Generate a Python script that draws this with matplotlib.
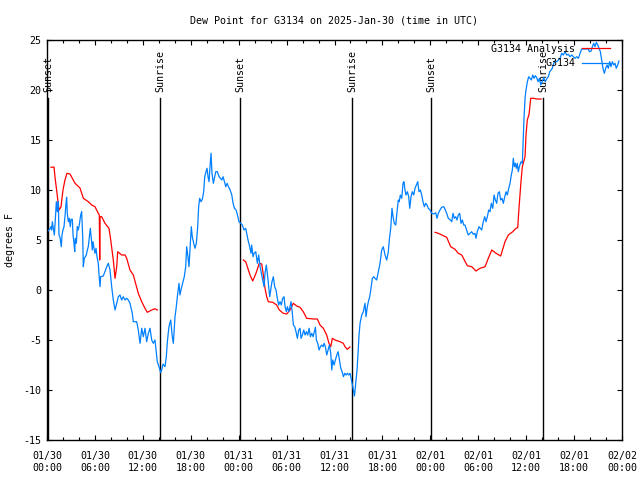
import numpy as np
import matplotlib
matplotlib.use("Agg")
import matplotlib.pyplot as plt
from matplotlib.ticker import MultipleLocator, FuncFormatter
from datetime import datetime, timedelta

# ---- data (hours since 2025-01-30 00:00 UTC, degrees F) ----
title = "Dew Point for G3134 on 2025-Jan-30 (time in UTC)"
start = datetime(2025, 1, 30, 0, 0)

analysis_hours = [0.50, 0.88, 1.00, 1.25, 1.50, 1.75, 2.00, 2.25, 2.50, 2.88, 3.51, 4.13, 4.55, 5.17,
                  5.60, 6.01, 6.42, 6.55, 6.60, 6.65, 6.85, 7.26, 7.76, 7.98, 8.30, 8.52, 8.73, 8.85,
                  9.35, 9.77, 9.98, 10.39, 10.81, 11.43, 11.86, 12.27, 12.56, 13.11, 13.52, 13.81,
                  19.0,
                  24.58, 24.88, 25.42, 25.76, 26.17, 26.58, 26.89, 27.09, 27.30, 27.51, 27.71, 28.26,
                  28.76, 29.09, 29.59, 30.02, 30.43, 30.84, 31.27, 31.68, 32.09, 32.52, 33.35, 33.85,
                  34.19, 34.60, 35.02, 35.31, 35.53, 35.73, 36.06, 36.69, 37.10, 37.32, 37.60, 37.94,
                  43.0,
                  48.59, 49.00, 49.63, 50.05, 50.55, 51.09, 51.50, 51.93, 52.63, 53.18, 53.72, 54.22,
                  54.85, 55.26, 55.69, 56.23, 56.81, 57.35, 57.77, 58.32, 58.73, 58.94, 59.10, 59.35,
                  59.52, 59.86, 59.98, 60.14, 60.36, 60.57, 60.90, 61.32, 61.86]
analysis_vals = [12.27, 12.3, 11.3, 9.7, 8.0, 8.3, 10.0, 11.0, 11.67, 11.6, 10.67, 10.2, 9.17, 8.83,
                 8.5, 8.33, 7.67, 7.5, 3.0, 7.33, 7.33, 6.67, 6.17, 5.0, 3.0, 1.17, 2.33, 3.83,
                 3.5, 3.5, 3.17, 2.0, 1.5, -0.33, -1.17, -1.83, -2.23, -2.0, -1.87, -2.0,
                 np.nan,
                 3.0, 2.83, 1.5, 0.9, 1.67, 2.67, 2.6, 1.5, 0.17, -0.67, -1.17, -1.23,
                 -1.5, -2.0, -2.33, -2.4, -2.0, -1.33, -1.6, -1.73, -2.17, -2.83, -2.9, -2.9,
                 -3.5, -3.83, -4.5, -5.33, -5.67, -4.83, -5.0, -5.17, -5.33, -5.67, -5.93, -5.7,
                 np.nan,
                 5.77, 5.67, 5.43, 5.27, 4.33, 4.07, 3.67, 3.5, 2.43, 2.33, 1.9, 2.17,
                 2.33, 3.17, 4.0, 3.67, 3.4, 4.83, 5.5, 5.83, 6.17, 6.23, 8.17, 10.83,
                 12.33, 13.33, 15.5, 17.0, 17.57, 19.17, 19.17, 19.1, 19.1]

obs_hours = [0.17, 0.33, 0.50, 0.58, 0.67, 0.79, 0.92, 1.04, 1.17, 1.29, 1.42, 1.50, 1.63, 1.79,
             1.88, 2.00, 2.13, 2.25, 2.38, 2.46, 2.54, 2.67, 2.79, 2.92, 3.01, 3.17, 3.26, 3.38,
             3.47, 3.54, 3.67, 3.79, 3.92, 4.04, 4.22, 4.34, 4.47, 4.55, 4.67, 4.80, 4.92, 5.05,
             5.17, 5.30, 5.42, 5.55, 5.67, 5.76, 5.89, 6.01, 6.14, 6.26, 6.42, 6.55, 6.64, 6.72,
             7.05, 7.48, 7.68, 7.89, 8.10, 8.30, 8.52, 8.73, 8.93, 9.14, 9.35, 9.55, 9.77, 9.98,
             10.18, 10.39, 10.68, 10.81, 11.23, 11.43, 11.65, 11.86, 12.06, 12.27, 12.48, 12.69,
             12.90, 13.11, 13.31, 13.52, 13.65, 13.81, 14.02, 14.24,
             14.36, 14.53, 14.78, 14.94, 15.07, 15.27, 15.49, 15.69, 15.82, 16.03, 16.19, 16.32,
             16.53, 16.65, 16.82, 17.03, 17.19, 17.37, 17.49, 17.65, 17.78, 17.90, 18.07, 18.19,
             18.37, 18.53, 18.70, 18.87, 18.99, 19.12, 19.28, 19.45, 19.62, 19.75, 19.91, 20.04,
             20.16, 20.29, 20.41, 20.54, 20.66, 20.83, 21.00, 21.13, 21.33, 21.55, 21.71, 21.89,
             22.05, 22.22, 22.39, 22.55, 22.72, 22.93, 23.14, 23.30, 23.47, 23.68, 23.85, 24.04,
             24.26, 24.46, 24.67, 24.88, 25.00, 25.17, 25.38, 25.55, 25.63, 25.80,
             25.93, 26.14, 26.34, 26.51, 26.68, 26.84, 27.01, 27.18, 27.30, 27.46, 27.59, 27.76,
             27.89, 28.01, 28.17, 28.34, 28.51, 28.68, 28.84, 29.01, 29.18, 29.34, 29.51, 29.68,
             29.81, 29.97, 30.10, 30.27, 30.43, 30.56, 30.72, 30.85, 31.02, 31.18, 31.35, 31.52,
             31.69, 31.81, 31.98, 32.15, 32.31, 32.48, 32.65, 32.82, 32.98, 33.15, 33.32, 33.48,
             33.61, 33.73, 33.90, 34.07, 34.23, 34.40, 34.57, 34.69, 34.86, 35.03, 35.19, 35.36,
             35.53, 35.66, 35.78, 35.95, 36.11, 36.29, 36.45, 36.62, 36.79, 36.95, 37.12, 37.29,
             37.45, 37.62, 37.79, 37.95, 38.12, 38.29, 38.50,
             38.82, 38.95, 39.07, 39.20, 39.41, 39.61, 39.82, 39.95, 40.11, 40.24, 40.41, 40.57,
             40.74, 40.91, 41.07, 41.28, 41.49, 41.70, 41.91, 42.11, 42.33, 42.54, 42.74, 42.86,
             43.04, 43.20, 43.33, 43.49, 43.67, 43.83, 43.99, 44.11, 44.24, 44.42, 44.58, 44.70,
             44.83, 44.95, 45.12, 45.29, 45.42, 45.58, 45.74, 45.92, 46.08, 46.25, 46.42, 46.58,
             46.75, 46.92, 47.08, 47.25, 47.42, 47.58, 47.75, 47.96, 48.17, 48.42, 48.67, 48.84,
             49.00, 49.21, 49.42, 49.68, 49.84, 50.05, 50.25, 50.50, 50.68, 50.84, 51.00, 51.18,
             51.34, 51.50, 51.68, 51.84, 52.01, 52.18,
             52.34, 52.55, 52.75, 52.97, 53.18, 53.38, 53.59, 53.72, 53.88, 54.09, 54.26, 54.43,
             54.63, 54.81, 54.97, 55.14, 55.31, 55.47, 55.64, 55.81, 55.98, 56.14, 56.31, 56.47,
             56.64, 56.81, 56.97, 57.14, 57.32, 57.48, 57.64, 57.82, 57.98, 58.14, 58.27, 58.39,
             58.52, 58.64, 58.77, 58.89, 59.02, 59.14, 59.36, 59.52, 59.65, 59.73, 59.86, 59.98,
             60.15, 60.32, 60.48, 60.65, 60.82, 60.99, 61.15, 61.32, 61.49, 61.65, 61.83, 61.99,
             62.20, 62.40, 62.61, 62.78, 62.95, 63.11, 63.28, 63.45, 63.61, 63.83, 64.03, 64.24,
             64.45, 64.65, 64.87, 65.08, 65.28, 65.49, 65.71, 65.91, 66.12, 66.33, 66.54, 66.75,
             66.96, 67.38, 67.79, 67.92, 68.13, 68.29, 68.46, 68.62, 68.79, 68.96, 69.12, 69.29,
             69.46, 69.62, 69.79, 69.96, 70.13, 70.29, 70.46, 70.62, 70.79, 70.96, 71.12, 71.29,
             71.46, 71.62]
obs_vals = [5.93, 6.07, 6.33, 6.0, 6.83, 6.17, 5.5, 7.0, 8.83, 7.83, 8.83, 5.5, 5.27, 4.33,
            5.5, 6.0, 6.33, 7.33, 8.67, 9.27, 7.67, 6.83, 7.17, 6.33, 7.07, 7.07, 5.5, 4.67,
            3.83, 5.17, 4.67, 6.33, 6.0, 6.5, 7.5, 7.83, 5.33, 2.33, 3.17, 3.33, 3.5, 4.0,
            4.33, 5.33, 6.17, 5.17, 4.0, 4.83, 4.17, 3.67, 4.17, 3.33, 2.67, 1.17, 0.33, 1.33,
            1.4, 2.33, 2.67, 2.0, 0.33, -1.0, -2.0, -1.33, -0.67, -0.5, -1.0, -0.67, -1.0, -0.83,
            -1.0, -1.33, -2.33, -3.17, -3.17, -4.0, -5.33, -3.83, -4.67, -3.83, -5.17, -4.33,
            -3.83, -5.0, -5.33, -5.0, -6.0, -7.17, -7.67, -8.27,
            -8.0, -7.4, -7.67, -6.67, -5.17, -3.67, -3.0, -4.67, -5.33, -2.67, -1.67, -0.67,
            0.67, -0.5, 0.17, 0.83, 1.33, 2.33, 4.33, 3.33, 2.33, 4.0, 6.33, 5.33,
            4.67, 4.17, 4.67, 6.33, 8.33, 9.17, 8.83, 9.07, 9.83, 11.33, 11.83, 12.17,
            11.33, 10.83, 12.33, 13.67, 11.67, 10.67, 11.33, 11.83, 11.83, 11.33, 11.17, 11.0,
            11.33, 10.83, 10.33, 10.67, 10.33, 10.0, 9.5, 8.67, 8.17, 8.0, 7.5, 6.83,
            6.67, 6.5, 6.0, 6.17, 5.67, 5.0, 4.33, 3.67, 4.5, 3.33,
            3.67, 3.83, 2.67, 3.5, 2.33, 1.67, 1.0, 0.33, 1.67, 2.5, 1.67, 0.33,
            -0.67, 0.0, 0.83, 1.33, 0.33, 0.0, -0.83, -1.5, -1.17, -1.5, -0.83, -0.67,
            -1.67, -2.17, -1.67, -2.17, -1.67, -1.17, -2.33, -3.5, -3.67, -4.17, -4.83, -4.0,
            -3.83, -4.83, -4.5, -4.0, -4.5, -4.17, -4.5, -3.83, -4.67, -4.33, -4.67, -4.17,
            -3.73, -5.0, -5.33, -6.0, -5.67, -5.5, -5.67, -5.33, -5.67, -6.5, -6.0, -5.5,
            -6.33, -8.0, -7.0, -7.5, -7.0, -6.5, -6.17, -7.0, -7.83, -8.17, -8.67, -8.33,
            -8.5, -8.33, -8.5, -8.33, -9.0, -9.67, -10.6,
            -8.0, -6.33, -4.5, -3.33, -2.5, -2.17, -1.33, -2.67, -1.67, -1.17, -0.67, 0.17,
            1.17, 1.33, 1.17, 1.0, 1.83, 2.67, 4.0, 4.33, 3.5, 3.0, 3.83, 5.0,
            6.17, 8.17, 7.33, 6.67, 6.5, 7.83, 9.0, 8.83, 9.5, 9.17, 10.67, 10.83,
            10.0, 9.5, 9.83, 9.33, 8.17, 9.33, 9.83, 9.5, 10.17, 10.5, 10.83, 9.83,
            10.0, 9.5, 8.83, 8.33, 8.67, 8.5, 8.17, 8.0, 7.67, 7.6, 7.73, 7.17,
            7.67, 8.0, 8.27, 8.33, 8.07, 7.67, 7.17, 7.0, 6.83, 7.67, 7.17, 7.33,
            7.0, 7.5, 7.67, 6.67, 7.0, 6.5,
            6.5, 6.0, 5.5, 5.67, 5.83, 5.57, 5.67, 5.17, 5.83, 6.33, 6.17, 6.0,
            6.83, 7.33, 6.83, 7.33, 8.0, 7.83, 8.67, 8.17, 9.5, 9.0, 8.67, 9.67,
            9.83, 9.0, 9.17, 8.67, 9.33, 9.83, 9.5, 10.17, 10.67, 11.5, 12.0, 13.17,
            12.33, 12.67, 12.17, 12.67, 11.83, 12.33, 12.83, 12.67, 15.5, 17.17, 19.17, 20.0,
            20.83, 21.33, 21.17, 21.0, 21.5, 21.17, 21.43, 21.23, 20.83, 21.17, 20.5, 20.83,
            21.23, 20.83, 21.17, 21.33, 21.83, 22.0, 22.17, 22.67, 22.9, 22.83, 23.0, 23.17,
            23.67, 23.5, 23.83, 23.5, 23.57, 23.33, 23.5, 23.33, 23.17, 23.33, 23.17, 23.67,
            24.1, 24.1, 24.1, 23.83, 23.9, 24.33, 24.67, 24.33, 24.77, 24.5, 24.17, 23.83,
            23.0, 22.17, 21.67, 22.17, 22.5, 22.17, 22.83, 22.33, 22.83, 22.5, 22.67, 22.17,
            22.5, 22.9]

event_hours = [0.13, 14.15, 24.17, 38.2, 48.08, 62.1]
event_labels = ["Sunset", "Sunrise", "Sunset", "Sunrise", "Sunset", "Sunrise"]

series_names = ["G3134 Analysis", "G3134"]
series_colors = ["#ff0000", "#0080ff"]

# ---- figure ----
mono = "DejaVu Sans Mono"
plt.rcParams['font.family'] = mono
plt.rcParams['font.size'] = 7.2

fig = plt.figure(figsize=(6.4, 4.8), dpi=100)
ax = fig.add_axes([47/640, 1-440/480, 575/640, 400/480])

ax.set_xlim(0, 72)
ax.set_ylim(-15, 25)

for h, lab in zip(event_hours, event_labels):
    ax.plot([h, h], [-15, 19.2], color='black', lw=1.0, zorder=1)
    ax.text(h, 19.8, lab, rotation=90, ha='center', va='bottom', fontsize=7.2, zorder=1)

ax.plot(analysis_hours, analysis_vals, color=series_colors[0], lw=0.9, label=series_names[0], zorder=2)
ax.plot(obs_hours, obs_vals, color=series_colors[1], lw=0.9, label=series_names[1], zorder=3)

ax.xaxis.set_major_locator(MultipleLocator(6))
ax.xaxis.set_minor_locator(MultipleLocator(2))
ax.yaxis.set_major_locator(MultipleLocator(5))
ax.xaxis.set_major_formatter(FuncFormatter(
    lambda v, p: (start + timedelta(hours=v)).strftime('%m/%d\n%H:%M')))
ax.yaxis.set_major_formatter(FuncFormatter(lambda v, p: f"{int(round(v))}"))
ax.tick_params(which='both', direction='in', top=True, right=True, width=0.8, labelsize=7.2)
ax.tick_params(which='major', length=3.6, pad=4)
ax.tick_params(which='minor', length=2.0)
ax.tick_params(axis='x', pad=8)
for s in ax.spines.values():
    s.set_linewidth(1.0)

ax.set_ylabel("degrees F", fontsize=7.2, labelpad=6)
ax.set_title(title, fontsize=7.2, pad=12)

leg = ax.legend(loc='upper right', frameon=False, markerfirst=False, fontsize=7.2,
                handlelength=2.8, handletextpad=0.7, labelspacing=0.45,
                borderaxespad=0.0, borderpad=0.2, bbox_to_anchor=(0.983, 0.995))

fig.savefig("out.png", dpi=100)
